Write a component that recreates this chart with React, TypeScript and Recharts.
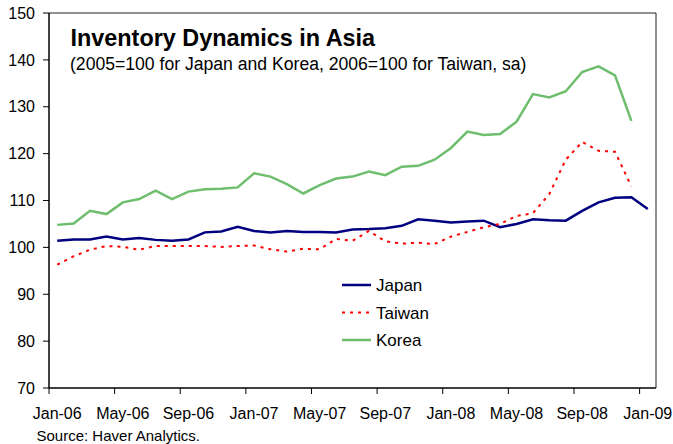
import React from 'react';
import { LineChart, Line, XAxis, YAxis } from 'recharts';

const months = [
  'Jan-06', 'Feb-06', 'Mar-06', 'Apr-06', 'May-06', 'Jun-06', 'Jul-06', 'Aug-06', 'Sep-06', 'Oct-06', 'Nov-06', 'Dec-06',
  'Jan-07', 'Feb-07', 'Mar-07', 'Apr-07', 'May-07', 'Jun-07', 'Jul-07', 'Aug-07', 'Sep-07', 'Oct-07', 'Nov-07', 'Dec-07',
  'Jan-08', 'Feb-08', 'Mar-08', 'Apr-08', 'May-08', 'Jun-08', 'Jul-08', 'Aug-08', 'Sep-08', 'Oct-08', 'Nov-08', 'Dec-08',
  'Jan-09',
];

const japan = [
  101.4, 101.7, 101.7, 102.3, 101.7, 102.0, 101.6, 101.4, 101.7, 103.2, 103.4, 104.4,
  103.5, 103.2, 103.5, 103.3, 103.3, 103.2, 103.8, 103.9, 104.1, 104.6, 106.0, 105.7,
  105.3, 105.5, 105.7, 104.3, 105.0, 106.0, 105.8, 105.7, 107.8, 109.6, 110.6, 110.7,
  108.2,
];

const taiwan = [
  96.3, 98.1, 99.5, 100.3, 100.1, 99.5, 100.3, 100.3, 100.3, 100.3, 100.1, 100.3,
  100.4, 99.6, 99.1, 99.7, 99.6, 101.8, 101.4, 103.5, 101.3, 100.8, 101.0, 100.7,
  102.3, 103.3, 104.3, 105.0, 106.7, 107.3, 111.4, 118.7, 122.5, 120.6, 120.4, 113.0,
];

const korea = [
  104.8, 105.1, 107.8, 107.1, 109.6, 110.3, 112.1, 110.3, 111.9, 112.4, 112.5, 112.8,
  115.8, 115.1, 113.5, 111.5, 113.3, 114.7, 115.1, 116.2, 115.4, 117.2, 117.4, 118.7,
  121.2, 124.7, 124.0, 124.2, 126.8, 132.7, 132.0, 133.3, 137.4, 138.6, 136.7, 127.0,
];

const yTicks = [70, 80, 90, 100, 110, 120, 130, 140, 150];

const data = months.map((m, i) => ({
  month: m,
  japan: japan[i] ?? null,
  taiwan: taiwan[i] ?? null,
  korea: korea[i] ?? null,
}));

const FONT = '"Liberation Sans", Arial, Helvetica, sans-serif';
const W = 673;
const H = 444;
const M = { top: 12, right: 16, left: 0, bottom: 26 };
const Y_W = 49;
const X_H = 30;
const PLOT_BOTTOM = H - M.bottom - X_H;
const BAND = (W - M.left - M.right - 1 - Y_W) / months.length;

const JAPAN_C = '#000080';
const TAIWAN_C = '#FF0000';
const KOREA_C = '#6EBE6E';

const XTick = (props: any) => {
  const { x, payload } = props;
  const lx = x - BAND / 2;
  return (
    <g>
      <line x1={lx} x2={lx} y1={PLOT_BOTTOM} y2={PLOT_BOTTOM + 6} stroke="#000" strokeWidth={1} />
      <text x={x} y={419} textAnchor="middle" fontSize={16} fill="#000" fontFamily={FONT}>
        {payload.value}
      </text>
    </g>
  );
};

const legendItems = [
  { name: 'Japan', color: JAPAN_C, dash: undefined, width: 2.5 },
  { name: 'Taiwan', color: TAIWAN_C, dash: '3 5', width: 2 },
  { name: 'Korea', color: KOREA_C, dash: undefined, width: 2.5 },
];

export default function App() {
  return (
    <div style={{ position: 'absolute', left: 0, top: 0, width: W, height: H, background: '#fff', fontFamily: FONT }}>
      <LineChart width={W} height={H} data={data} margin={M}>
        <XAxis
          dataKey="month"
          scale="band"
          interval={3}
          tick={<XTick />}
          tickLine={false}
          height={X_H}
          axisLine={{ stroke: '#000', strokeWidth: 1.5 }}
        />
        <XAxis
          xAxisId="top"
          orientation="top"
          dataKey="month"
          height={1}
          tick={false}
          tickLine={false}
          axisLine={{ stroke: '#222', strokeWidth: 1 }}
        />
        <YAxis
          domain={[70, 150]}
          ticks={yTicks}
          interval={0}
          width={Y_W}
          tickSize={6}
          tickMargin={8}
          tick={{ fill: '#000', fontSize: 16, fontFamily: FONT }}
          tickLine={{ stroke: '#000' }}
          axisLine={{ stroke: '#000', strokeWidth: 1.5 }}
        />
        <YAxis
          yAxisId="right"
          orientation="right"
          width={1}
          domain={[70, 150]}
          tick={false}
          tickLine={false}
          axisLine={{ stroke: '#222', strokeWidth: 1 }}
        />
        <Line dataKey="japan" name="Japan" stroke={JAPAN_C} strokeWidth={2.5} dot={false} isAnimationActive={false} />
        <Line dataKey="taiwan" name="Taiwan" stroke={TAIWAN_C} strokeWidth={2} strokeDasharray="3 5" dot={false} isAnimationActive={false} />
        <Line dataKey="korea" name="Korea" stroke={KOREA_C} strokeWidth={2.5} dot={false} isAnimationActive={false} />
      </LineChart>
      <svg width={W} height={H} style={{ position: 'absolute', left: 0, top: 0, pointerEvents: 'none' }}>
        <text x={70.5} y={45.5} fontSize={23.4} fontWeight="bold" fill="#000" fontFamily={FONT}>
          Inventory Dynamics in Asia
        </text>
        <text x={70} y={69.5} fontSize={17.6} fill="#000" fontFamily={FONT}>
          (2005=100 for Japan and Korea, 2006=100 for Taiwan, sa)
        </text>
        <text x={36.5} y={440.5} fontSize={15} fill="#000" fontFamily={FONT}>
          Source: Haver Analytics.
        </text>
        <g transform="translate(342, 272)">
          {legendItems.map((it, i) => {
            const cy = 13 + i * 27.5;
            return (
              <g key={it.name}>
                <line x1={0} x2={29} y1={cy} y2={cy} stroke={it.color} strokeWidth={it.width} strokeDasharray={it.dash} />
                <text x={34} y={cy + 6} fontSize={17} fill="#000" fontFamily={FONT}>
                  {it.name}
                </text>
              </g>
            );
          })}
        </g>
      </svg>
    </div>
  );
}
